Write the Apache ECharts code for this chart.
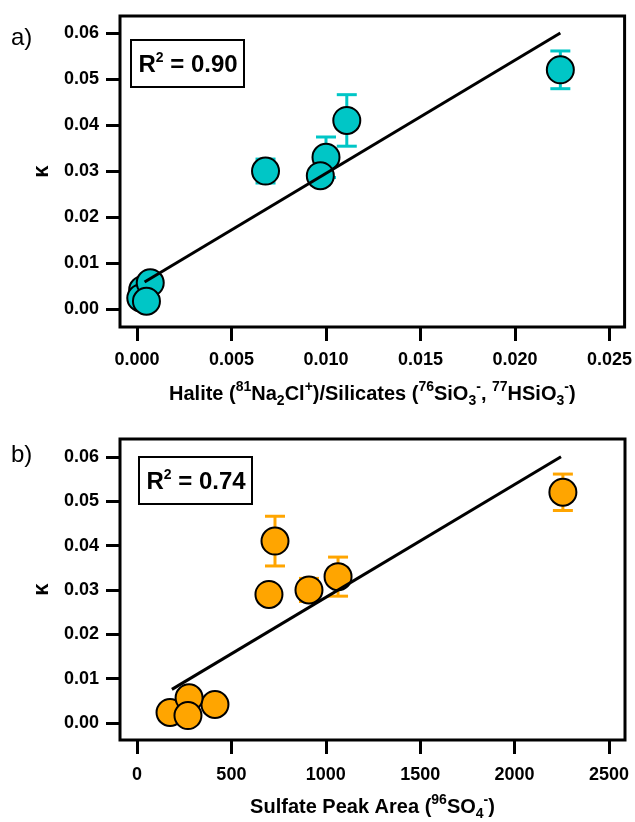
<!DOCTYPE html>
<html>
<head>
<meta charset="utf-8">
<script src="https://cdn.jsdelivr.net/npm/echarts@6/dist/echarts.min.js"></script>
<style>
  html, body { margin: 0; padding: 0; background: #fff; }
  #main { width: 635px; height: 822px; }
</style>
</head>
<body>
<div id="main"></div>
<script>
// kappa values shared by both panels (same samples)
const kappa = [0.052, 0.041, 0.033, 0.030, 0.029, 0.0042, 0.0024, 0.0057, 0.0017];
const kappaErr = [0.0041, 0.0056, 0.0044, 0.0026, 0.0020, 0.0008, 0.0008, 0.0008, 0.0008];
// panel a x: halite / silicates ratio
const haliteRatio = [0.0224, 0.0111, 0.0100, 0.0068, 0.0097, 0.0003, 0.0002, 0.0007, 0.0005];
// panel b x: sulfate peak area
const sulfateArea = [2256, 731, 1065, 911, 699, 413, 175, 276, 270];

// fitted lines (end points)
const fitA_x = [0.0004, 0.0224];
const fitA_y = [0.0059, 0.0600];
const fitB_x = [185, 2246];
const fitB_y = [0.0076, 0.0600];

const r2A = '0.90';
const r2B = '0.74';

const kappaTicks = [0, 0.01, 0.02, 0.03, 0.04, 0.05, 0.06];
const haliteTicks = [0, 0.005, 0.010, 0.015, 0.020, 0.025];
const sulfateTicks = [0, 500, 1000, 1500, 2000, 2500];

const TEAL = '#00c6c6';
const ORANGE = '#ffa500';
const FONT = '"Liberation Sans", Arial, sans-serif';

let myChart = echarts.init(document.getElementById('main'));

function pairs(xs, ys) {
  return xs.map((x, i) => [x, ys[i]]);
}
function errData(xs) {
  return xs.map((x, i) => [x, kappa[i] - kappaErr[i], kappa[i] + kappaErr[i]]);
}
function errRender(color) {
  return function (params, api) {
    let x = api.value(0);
    let lo = api.coord([x, api.value(1)]);
    let hi = api.coord([x, api.value(2)]);
    let w = 10;
    let st = { stroke: color, lineWidth: 3 };
    return {
      type: 'group',
      children: [
        { type: 'line', shape: { x1: hi[0], y1: hi[1], x2: lo[0], y2: lo[1] }, style: st },
        { type: 'line', shape: { x1: hi[0] - w, y1: hi[1], x2: hi[0] + w, y2: hi[1] }, style: st },
        { type: 'line', shape: { x1: lo[0] - w, y1: lo[1], x2: lo[0] + w, y2: lo[1] }, style: st }
      ]
    };
  };
}

const supRich = {
  sup: { fontSize: 14, fontWeight: 'bold', fontFamily: FONT, lineHeight: 13, verticalAlign: 'top', color: '#000' },
  sub: { fontSize: 14, fontWeight: 'bold', fontFamily: FONT, lineHeight: 13, verticalAlign: 'bottom', color: '#000' }
};

function xAxisOf(idx, min, max, ticks, fmt, name, labelMargin) {
  return {
    type: 'value',
    gridIndex: idx,
    min: min,
    max: max,
    name: name,
    nameLocation: 'middle',
    nameGap: 53,
    nameTextStyle: {
      fontSize: 20, fontWeight: 'bold', fontFamily: FONT, color: '#000', lineHeight: 28,
      rich: supRich
    },
    axisLine: { show: false, onZero: false },
    axisTick: { show: true, inside: false, length: 14, lineStyle: { color: '#000', width: 3 }, customValues: ticks },
    axisLabel: {
      customValues: ticks, margin: labelMargin,
      fontSize: 18, fontWeight: 'bold', fontFamily: FONT, color: '#000',
      formatter: fmt
    },
    splitLine: { show: false }
  };
}
function yAxisOf(idx, min, max) {
  return {
    type: 'value',
    gridIndex: idx,
    min: min,
    max: max,
    name: 'κ',
    nameLocation: 'middle',
    nameRotate: 90,
    nameGap: 64,
    nameTextStyle: { fontSize: 22, fontWeight: 'bold', fontFamily: FONT, color: '#000' },
    axisLine: { show: false, onZero: false },
    axisTick: { show: true, inside: false, length: 14, lineStyle: { color: '#000', width: 3 }, customValues: kappaTicks },
    axisLabel: {
      customValues: kappaTicks, margin: 21,
      fontSize: 18, fontWeight: 'bold', fontFamily: FONT, color: '#000',
      formatter: v => v.toFixed(2)
    },
    splitLine: { show: false }
  };
}

function panelSeries(idx, xs, color, fx, fy) {
  return [
    {
      type: 'custom',
      xAxisIndex: idx, yAxisIndex: idx,
      renderItem: errRender(color),
      encode: { x: 0, y: [1, 2] },
      data: errData(xs),
      z: 2,
      silent: true
    },
    {
      type: 'scatter',
      xAxisIndex: idx, yAxisIndex: idx,
      symbol: 'circle',
      symbolSize: 27,
      itemStyle: { color: color, borderColor: '#000', borderWidth: 2, opacity: 1 },
      data: pairs(xs, kappa),
      z: 3
    },
    {
      type: 'line',
      xAxisIndex: idx, yAxisIndex: idx,
      data: pairs(fx, fy),
      showSymbol: false,
      symbol: 'none',
      lineStyle: { color: '#000', width: 3 },
      z: 4
    }
  ];
}

function r2Box(left, top, val) {
  return {
    type: 'group',
    left: left,
    top: top,
    children: [
      { type: 'rect', shape: { x: 0, y: 0, width: 113, height: 47 }, style: { fill: '#fff', stroke: '#000', lineWidth: 2 } },
      {
        type: 'text', x: 57, y: 25,
        style: {
          text: '{r|R}{s|2}{r| = ' + val + '}',
          align: 'center', verticalAlign: 'middle',
          rich: {
            r: { fontSize: 24, fontWeight: 'bold', fontFamily: FONT, fill: '#000', lineHeight: 28 },
            s: { fontSize: 14, fontWeight: 'bold', fontFamily: FONT, fill: '#000', lineHeight: 14, verticalAlign: 'top' }
          }
        }
      }
    ]
  };
}

let option = {
  animation: false,
  backgroundColor: '#fff',
  grid: [
    { left: 120, top: 16, right: 9, height: 311, show: true, borderColor: '#000', borderWidth: 3, backgroundColor: 'transparent' },
    { left: 120, top: 439, right: 10, height: 304, show: true, borderColor: '#000', borderWidth: 3, backgroundColor: 'transparent' }
  ],
  xAxis: [
    xAxisOf(0, -0.0009, 0.0258, haliteTicks, v => v.toFixed(3),
      'Halite ({sup|81}Na{sub|2}Cl{sup|+})/Silicates ({sup|76}SiO{sub|3}{sup|-}, {sup|77}HSiO{sub|3}{sup|-})', 24),
    xAxisOf(1, -90, 2585, sulfateTicks, v => String(v),
      'Sulfate Peak Area ({sup|96}SO{sub|4}{sup|-})', 26)
  ],
  yAxis: [
    yAxisOf(0, -0.0039, 0.0637),
    yAxisOf(1, -0.0038, 0.0640)
  ],
  series: [].concat(
    panelSeries(0, haliteRatio, TEAL, fitA_x, fitA_y),
    panelSeries(1, sulfateArea, ORANGE, fitB_x, fitB_y)
  ),
  graphic: [
    { type: 'text', left: 11, top: 26, style: { text: 'a)', fontSize: 24, fontFamily: FONT, fill: '#000' } },
    { type: 'text', left: 11, top: 443, style: { text: 'b)', fontSize: 24, fontFamily: FONT, fill: '#000' } },
    r2Box(130, 39, r2A),
    r2Box(138, 456, r2B)
  ]
};
myChart.setOption(option);
</script>
</body>
</html>
